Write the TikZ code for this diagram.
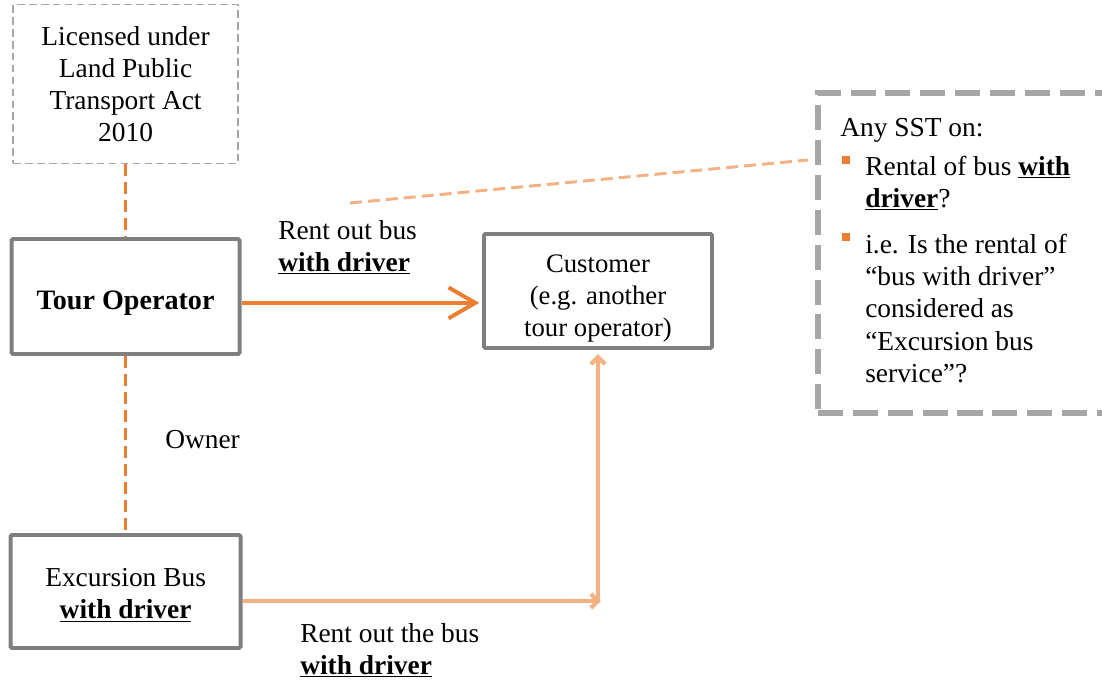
\documentclass[tikz,border=0pt]{standalone}
\usepackage{fontspec}
\setmainfont{Liberation Serif}
\usetikzlibrary{arrows.meta}

\definecolor{tourorange}{HTML}{ED7D31}
\definecolor{paleorange}{HTML}{F4B183}
\definecolor{boxgray}{HTML}{7F7F7F}
\definecolor{dashgray}{HTML}{A6A6A6}

\newcommand{\withdriver}{\underline{\textbf{with driver}}}

\begin{document}
\begin{tikzpicture}[
    every node/.style={font=\fontsize{19.5}{22.8}\selectfont},
    entity/.style={draw=boxgray, line width=2.8pt, rounded corners=1pt, inner sep=0pt},
    caption/.style={align=center, inner sep=0pt},
    licence/.style={draw=dashgray, line width=1.4pt, dash pattern=on 5.5pt off 3pt, align=center, inner sep=0pt},
    calloutbox/.style={draw=dashgray, line width=4.3pt, dash pattern=on 17.8pt off 7pt},
    link/.style={tourorange, line width=2.1pt, dash pattern=on 8.5pt off 4.3pt},
    rentmain/.style={tourorange, line width=2.8pt, -{Straight Barb[length=19pt,width=22pt]}},
    rentpale/.style={paleorange, line width=3pt, -{Straight Barb[length=5pt,width=10pt]}},
    note/.style={align=left, inner sep=0pt, anchor=west},
    bulletsq/.style={fill=tourorange, minimum size=0.21cm, inner sep=0pt},
  ]
    \useasboundingbox (0, 0) rectangle (27.55, 16.975);
    % ---------------------------------------------
    \node[licence, minimum width=5.625cm, minimum height=3.975cm] (licence) at (3.14, 14.875)
      {Licensed under\\Land Public\\Transport Act\\2010};
    \node[entity, minimum width=5.7cm, minimum height=2.875cm] (tour) at (3.14, 9.5625) {};
    \node[caption, font=\fontsize{20}{24}\selectfont\bfseries] (tourtext) at (3.14, 9.39) {Tour Operator};
    \node[entity, minimum width=5.7cm, minimum height=2.85cm] (customer) at (14.95, 9.7) {};
    \node[caption, font=\fontsize{19}{22.8}\selectfont] (customertext) at (14.95, 9.52)
      {Customer\\(e.g. another\\tour operator)};
    \node[entity, minimum width=5.75cm, minimum height=2.825cm] (bus) at (3.14, 2.1875) {};
    \node[caption] (bustext) at (3.14, 2.1) {Excursion Bus\\\withdriver};

    % labels
    \node[note] (rentlabel) at (6.95, 10.79) {Rent out bus\\\withdriver};
    \node[note] (owner) at (4.125, 5.975) {Owner};
    \node[note] (rentlabelbus) at (7.5, 0.72) {Rent out the bus\\\withdriver};

    % ownership and licence links
    \draw[link] (licence.south) -- (tour.north);
    \draw[link] (tour.south) -- (bus.north);

    % rent out with driver
    \draw[rentmain, shorten >=2pt] ([yshift=-0.16cm]tour.east) -- ([yshift=-0.16cm]tour.east -| customer.west);
    \coordinate (corner) at (customer.south |- 0,1.95);
    \draw[rentpale, shorten >=-2pt] (bus.east |- corner) -- (corner);
    \draw[rentpale, shorten >=3pt] ([yshift=-1.5pt]corner) -- (customer.south);

    % question box
    \node[calloutbox, minimum width=8.05cm, minimum height=8cm] (sst) at (24.475, 10.65) {};
    \node[note] (anysst) at (21.0, 13.725) {Any SST on:};
    \node[bulletsq] (bulletone) at (21.15, 12.975) {};
    \node[note] (questionone) at (21.625, 12.4) {Rental of bus \underline{\textbf{with}}\\\underline{\textbf{driver}}?};
    \node[bulletsq] (bullettwo) at (21.15, 11.05) {};
    \node[note] (questiontwo) at (21.625, 9.2625)
      {i.e. Is the rental of\\“bus with driver”\\considered as\\“Excursion bus\\service”?};

    % pointer to question box
    \coordinate (pointerstart) at (8.75, 11.9);
    \coordinate (pointerend) at (20.2, 12.975);
    \draw[link, paleorange] (pointerstart) -- (pointerend);
  \end{tikzpicture}
\end{document}
